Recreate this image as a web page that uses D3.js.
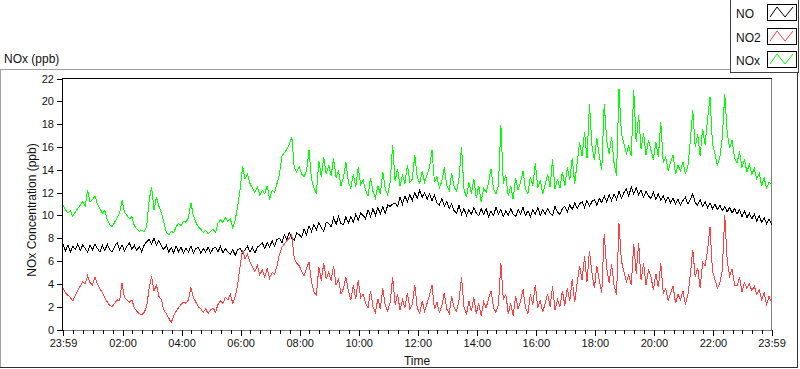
<!DOCTYPE html>
<html><head><meta charset="utf-8">
<script src="https://cdn.jsdelivr.net/npm/d3@7"></script>
<style>
body{margin:0;background:#fff;}
svg{display:block;font-family:"Liberation Sans",Arial,sans-serif;}
</style></head><body>
<svg id="c" width="800" height="369"></svg>
<script>
// ---- data ----
const startTime = "2000-01-01T23:59:00";
const stepMinutes = 5;
const seriesNames = ["NO", "NO2", "NOx"];
const noValues = [
7.5,6.9,7.4,6.8,7.3,7.0,7.5,6.9,7.4,7.1,6.8,7.4,
7.0,7.5,7.1,6.8,7.4,6.9,7.5,7.0,6.8,7.3,7.6,7.0,
7.4,6.9,7.3,7.6,7.0,7.4,6.9,7.3,6.8,7.4,7.7,7.9,
7.5,8.0,7.4,7.8,7.3,7.0,7.4,6.8,7.2,6.7,7.3,6.8,
7.2,6.7,7.1,6.8,7.3,6.7,7.1,7.2,6.7,7.1,6.8,7.2,
6.7,7.1,7.2,6.8,7.3,6.7,7.1,6.8,6.6,7.0,6.5,7.0,
7.1,6.7,7.0,7.3,6.8,7.2,6.7,7.2,7.4,7.6,7.1,7.6,
7.2,7.8,7.3,7.9,8.0,7.6,8.3,7.9,8.5,8.0,7.8,8.5,
8.3,8.1,8.8,8.3,9.1,8.6,9.2,8.7,9.4,8.9,8.6,9.4,
9.3,9.0,9.8,9.2,9.9,9.3,9.2,9.9,9.3,9.9,9.4,10.1,
9.6,10.2,10.0,9.7,10.5,9.9,10.6,10.0,10.7,10.1,10.8,10.2,
10.9,10.8,11.0,11.1,10.8,11.6,11.0,11.7,11.2,11.8,11.3,12.0,
11.5,12.2,11.6,12.0,11.4,11.9,11.3,11.8,11.1,10.9,11.5,10.8,
11.2,10.6,11.0,10.4,10.2,10.9,10.1,10.6,10.0,10.5,10.1,10.7,
10.2,10.0,10.6,10.1,10.6,9.9,10.4,10.0,10.7,10.1,10.5,9.9,
10.4,10.0,10.6,10.1,9.9,10.5,10.1,10.7,10.0,10.4,9.9,10.5,
10.1,10.7,10.0,10.5,10.1,10.6,10.2,10.0,10.8,10.3,10.1,10.6,
10.8,10.3,10.9,10.5,11.1,10.6,11.0,11.2,10.7,11.3,10.8,11.2,
11.4,10.9,11.5,11.1,11.7,11.2,11.8,11.3,11.9,11.4,12.1,11.5,
12.0,12.3,11.7,12.5,11.9,12.4,11.8,12.2,11.6,12.1,11.7,11.5,
12.0,11.4,11.9,11.3,11.7,11.2,11.6,11.1,11.5,11.0,11.4,10.9,
11.3,11.6,11.0,11.4,11.9,11.1,10.9,11.4,10.8,11.2,10.7,11.1,
10.6,11.0,10.5,10.9,10.4,10.8,10.3,10.7,10.2,10.6,10.1,10.5,
9.9,10.4,9.8,10.2,9.7,10.1,9.5,10.0,9.4,9.8,9.3,9.7,9.2
];
const no2Values = [
3.6,3.2,3.0,2.8,2.5,3.0,3.4,3.8,4.2,4.0,4.7,4.1,
3.9,4.6,4.0,3.6,3.2,2.8,2.4,2.1,2.0,2.3,2.6,2.5,
4.1,2.8,2.6,2.4,2.6,1.9,1.6,1.4,1.3,1.5,2.0,3.6,
4.7,3.4,3.9,2.9,2.6,1.7,1.4,1.0,0.6,1.2,1.6,1.9,
2.2,2.4,2.3,2.6,3.7,2.8,2.4,2.0,1.8,1.5,1.8,1.4,
1.7,1.9,1.5,2.2,2.5,2.3,2.8,2.6,3.1,2.3,2.9,3.9,
5.6,7.0,6.2,6.6,5.9,5.5,5.1,5.6,4.8,5.2,4.6,5.3,
4.5,5.0,4.8,5.6,6.6,7.2,7.5,7.8,8.0,8.3,6.2,5.8,
5.6,5.1,4.7,5.4,5.9,4.2,3.3,3.0,5.5,4.3,5.8,4.4,
5.0,4.3,5.6,3.9,4.4,3.1,3.6,4.6,3.4,2.6,3.9,2.7,
4.3,2.8,3.1,2.3,1.9,3.4,2.0,1.5,2.7,1.8,3.6,2.1,
1.6,2.4,4.6,2.2,3.1,1.7,2.6,1.9,3.2,1.8,2.2,3.9,
1.9,1.4,2.5,1.6,2.3,3.0,3.9,1.8,2.4,1.5,2.1,3.2,
1.8,1.4,2.9,1.9,1.6,2.6,4.6,2.0,1.3,2.5,1.6,2.8,
1.4,2.3,1.2,2.4,1.9,2.7,3.4,1.9,1.5,2.2,5.8,2.6,
3.1,1.4,2.3,1.2,2.9,1.8,2.5,3.5,1.9,1.4,3.1,2.2,
3.9,1.9,2.6,1.5,2.3,3.1,2.0,3.8,1.7,2.6,2.0,3.4,
2.1,3.6,2.5,4.4,2.4,4.1,5.6,4.3,6.4,4.2,6.9,5.0,
3.6,5.6,4.3,3.2,8.4,5.4,4.1,5.7,3.9,3.0,9.3,6.0,
5.1,4.2,4.8,3.9,7.5,4.9,7.6,4.3,5.8,3.9,5.2,4.6,
3.5,4.9,3.7,5.8,3.2,3.6,2.5,3.2,3.8,2.3,3.1,2.6,
3.4,2.2,3.0,4.8,7.0,4.6,5.4,3.6,5.9,5.6,6.9,9.0,
5.1,4.4,3.6,4.1,5.2,10.0,6.0,4.7,5.3,3.9,3.8,4.6,
3.3,4.1,3.6,4.0,3.4,3.8,3.1,3.5,2.6,3.2,2.2,2.9,2.4
];
const noxValues = [
10.9,10.5,10.2,10.4,9.9,10.3,10.6,10.9,11.2,10.8,12.2,11.2,
11.4,11.7,11.0,10.6,10.2,10.4,9.6,9.2,9.0,9.4,9.8,10.2,
11.3,10.3,10.0,9.7,9.9,9.1,8.8,8.6,8.7,8.6,9.0,11.3,
12.5,10.5,11.6,10.8,10.2,9.4,8.5,8.3,8.6,8.5,9.0,9.3,
9.1,9.5,9.4,9.8,11.1,10.0,9.4,9.0,8.8,8.5,8.7,8.4,
8.6,8.8,8.5,9.3,9.6,9.4,9.8,9.5,9.7,8.9,9.6,10.8,
12.3,14.3,13.2,13.6,12.8,12.4,12.0,12.5,11.8,12.2,11.9,12.6,
11.4,12.2,12.0,12.8,13.6,15.2,15.5,15.8,16.2,16.9,14.2,13.8,
14.3,13.6,13.4,13.9,15.7,13.2,12.4,11.9,14.8,13.4,15.1,13.6,
14.4,13.5,15.0,13.3,13.9,12.6,13.3,14.7,12.9,12.4,13.6,12.5,
14.2,12.7,13.1,12.2,11.7,13.3,12.1,11.5,12.6,11.9,13.8,12.3,
11.8,12.9,16.2,13.0,14.1,12.6,13.5,12.8,14.4,12.9,13.2,15.3,
13.4,12.8,13.9,12.9,13.6,14.2,15.7,12.9,13.4,12.4,13.0,14.2,
12.6,12.2,13.7,12.5,12.1,13.3,16.0,12.3,11.6,12.9,11.9,13.2,
11.5,12.6,11.2,12.4,12.0,12.9,14.1,12.3,11.9,12.6,17.9,12.8,
13.5,11.7,12.6,11.4,13.3,12.2,12.9,13.9,12.3,11.9,13.4,12.6,
14.6,12.4,13.1,11.9,12.7,13.6,12.5,14.9,12.3,13.2,12.4,13.8,
12.6,14.2,13.1,15.0,12.8,14.6,16.4,15.2,17.3,15.0,19.8,16.1,
14.9,16.8,15.2,14.0,19.8,16.6,15.4,16.9,14.6,13.5,21.1,17.2,
16.3,15.4,16.1,15.2,21.0,16.4,18.8,15.8,17.2,15.3,16.6,15.7,
14.9,16.4,15.1,18.2,14.6,15.1,13.9,14.7,15.3,13.6,14.4,13.9,
14.7,13.6,14.3,16.5,19.2,16.0,17.1,15.2,17.6,16.2,18.4,20.4,
16.3,15.4,14.4,15.1,16.8,20.6,17.2,15.9,16.6,15.0,14.6,15.6,
14.2,14.9,13.8,14.5,13.6,14.1,13.2,13.7,12.6,13.3,12.4,12.9,12.7
];
const yTickValues = [0,2,4,6,8,10,12,14,16,18,20,22];
const xTickLabels = ["23:59","02:00","04:00","06:00","08:00","10:00","12:00","14:00","16:00","18:00","20:00","22:00","23:59"];
const yTitle = "NOx Concentration (ppb)";
const xTitle = "Time";
const chartLabel = "NOx (ppb)";

// ---- styles ----
const colors = ["#000000", "#ff4040", "#00ff00"];
const textColor = "#111";

const svg = d3.select("#c");
const L = 62, R = 772, T = 78, B = 330;

const t0 = new Date(startTime);
const t1 = d3.timeMinute.offset(t0, 24 * 60);
const x = d3.scaleTime().domain([t0, t1]).range([63, 771.5]);
const y = d3.scaleLinear().domain([0, 22]).range([329.5, 78.5]);

// outer frame
const g0 = svg.append("g").attr("shape-rendering", "crispEdges");
g0.append("line").attr("x1", 0).attr("x2", 730).attr("y1", 69.5).attr("y2", 69.5).attr("stroke", "#a0a0a0");
g0.append("line").attr("x1", 0.5).attr("x2", 0.5).attr("y1", 69).attr("y2", 368).attr("stroke", "#a0a0a0");
g0.append("line").attr("x1", 0).attr("x2", 798).attr("y1", 367.5).attr("y2", 367.5).attr("stroke", "#303030");
g0.append("line").attr("x1", 797.5).attr("x2", 797.5).attr("y1", 72).attr("y2", 368).attr("stroke", "#303030");

svg.append("text").attr("x", 4).attr("y", 63).attr("font-size", 12).attr("fill", textColor).text(chartLabel);

// series data
const times = noValues.map((_, i) => d3.timeMinute.offset(t0, i * stepMinutes));
const allSeries = [noValues, no2Values, noxValues];

// plot frame
g0.append("line").attr("x1", L).attr("x2", R).attr("y1", B + 0.5).attr("y2", B + 0.5).attr("stroke", "#808080");
g0.append("line").attr("x1", R - 0.5).attr("x2", R - 0.5).attr("y1", T).attr("y2", B + 1).attr("stroke", "#808080");

const line = d3.line().x((d, i) => x(times[i])).y(d => y(d));
const plotG = svg.append("g").attr("shape-rendering", "crispEdges");
allSeries.forEach((vals, k) => {
  plotG.append("path").datum(vals).attr("d", line).attr("fill", "none")
    .attr("stroke", colors[k]).attr("stroke-width", 1);
});

g0.append("line").attr("x1", L).attr("x2", R).attr("y1", T + 0.5).attr("y2", T + 0.5).attr("stroke", "#000");
g0.append("line").attr("x1", L + 0.5).attr("x2", L + 0.5).attr("y1", T).attr("y2", B + 1).attr("stroke", "#000");

// y axis
const yAxis = svg.append("g").attr("transform", `translate(${L},0)`)
  .call(d3.axisLeft(y).tickValues(yTickValues).tickSize(5).tickPadding(3));
yAxis.select(".domain").remove();
yAxis.selectAll("line").attr("shape-rendering", "crispEdges").attr("stroke", "#000");
yAxis.selectAll("text").attr("font-size", 11).attr("fill", textColor).attr("font-family", "Liberation Sans, Arial, sans-serif");

// x axis
const majorDates = xTickLabels.map((lab, i) => {
  if (i === 0) return t0;
  if (i === xTickLabels.length - 1) return t1;
  const [hh, mm] = lab.split(":").map(Number);
  const d = new Date(t0); d.setDate(d.getDate() + 1); d.setHours(hh, mm, 0, 0);
  return d;
});
const minorDates = d3.timeMinute.every(20).range(t0, t1).filter(d => d.getMinutes() % 20 === 0);
const xMinor = svg.append("g").attr("transform", `translate(0,${B})`)
  .call(d3.axisBottom(x).tickValues(minorDates).tickSize(4).tickFormat(""));
xMinor.select(".domain").remove();
xMinor.selectAll("line").attr("shape-rendering", "crispEdges").attr("stroke", "#000");
const xAxis = svg.append("g").attr("transform", `translate(0,${B})`)
  .call(d3.axisBottom(x).tickValues(majorDates).tickSize(6).tickPadding(3)
    .tickFormat((d, i) => xTickLabels[i]));
xAxis.select(".domain").remove();
xAxis.selectAll("line").attr("shape-rendering", "crispEdges").attr("stroke", "#000");
xAxis.selectAll("text").attr("font-size", 11).attr("fill", textColor).attr("font-family", "Liberation Sans, Arial, sans-serif");

// titles
svg.append("text").attr("x", (L + R) / 2).attr("y", 365).attr("text-anchor", "middle")
  .attr("font-size", 12).attr("fill", textColor).text(xTitle);
svg.append("text").attr("transform", "translate(36,210) rotate(-90)").attr("text-anchor", "middle")
  .attr("font-size", 12).attr("fill", textColor).text(yTitle);

// legend
const lg = svg.append("g").attr("transform", "translate(730,0)");
lg.append("rect").attr("x", 0.5).attr("y", -1).attr("width", 68).attr("height", 73.5)
  .attr("fill", "#fff").attr("stroke", "#404040").attr("shape-rendering", "crispEdges");
seriesNames.forEach((name, k) => {
  const oy = k * 23.5;
  lg.append("text").attr("x", 6).attr("y", 18 + oy).attr("font-size", 12).attr("fill", textColor).text(name);
  const bx = 37, by = Math.round(4 + oy), bw = 29, bh = 16;
  lg.append("rect").attr("x", bx + 0.5).attr("y", by + 0.5).attr("width", bw).attr("height", bh)
    .attr("fill", "#fff").attr("stroke", "#000").attr("shape-rendering", "crispEdges");
  const zz = [[bx + 3, by + bh - 3], [bx + 10, by + 3], [bx + 18, by + bh - 3], [bx + 26, by + 3]];
  lg.append("path").attr("d", d3.line()(zz)).attr("fill", "none").attr("stroke", colors[k]).attr("stroke-width", 1);
});
</script>
</body></html>
